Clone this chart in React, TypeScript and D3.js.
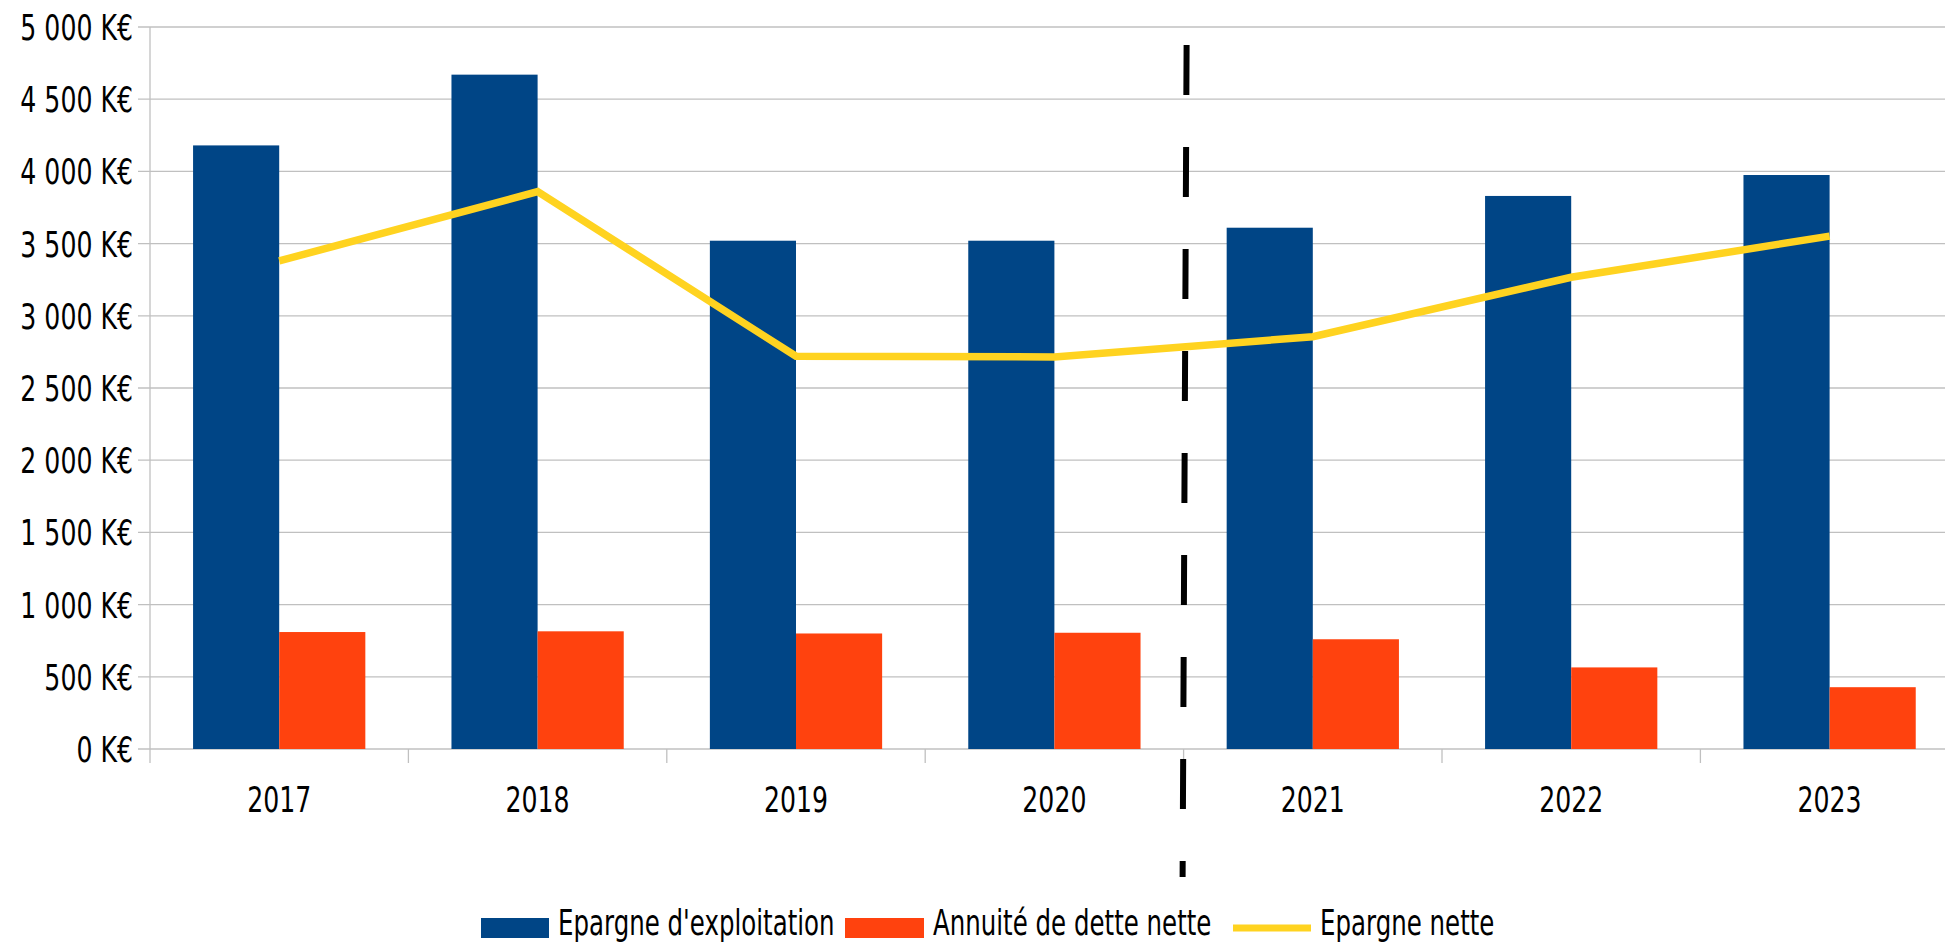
import React from "react";
import * as d3 from "d3";

const years = ["2017", "2018", "2019", "2020", "2021", "2022", "2023"];
const epargneExploitation = [4180, 4670, 3520, 3520, 3610, 3830, 3975];
const annuiteDette = [810, 815, 800, 805, 760, 565, 428];
const epargneNette = [3380, 3860, 2720, 2715, 2855, 3267, 3552];
const yTicks = [0, 500, 1000, 1500, 2000, 2500, 3000, 3500, 4000, 4500, 5000];
const seriesNames = ["Epargne d'exploitation", "Annuité de dette nette", "Epargne nette"];
const colors = ["#004586", "#ff420e", "#ffd320"];
const separatorAfter = "2020";

const W = 1945;
const H = 944;
const FONT = "'DejaVu Sans', sans-serif";
const FS = 36;
const SX = 0.7;

function fmt(v: number) {
  const s = d3.format(",")(v).replace(/,/g, " ");
  return `${s} K€`;
}

function T(props: { x: number; y: number; anchor?: string; dy?: string; size?: number; children: React.ReactNode }) {
  return (
    <text
      transform={`translate(${props.x},${props.y}) scale(${SX},1)`}
      textAnchor={props.anchor || "start"}
      dy={props.dy}
      fontFamily={FONT}
      fontSize={props.size || FS}
      fill="#000"
    >
      {props.children}
    </text>
  );
}

export default function App() {
  const left = 150;
  const catW = 258.4;
  const x = d3.scaleBand<string>().domain(years).range([left, left + catW * years.length]).padding(0);
  const bw = x.bandwidth();
  const inner = d3.scaleBand<string>().domain(["a", "b"]).range([bw / 6, (bw * 5) / 6]).padding(0);
  const y = d3.scaleLinear().domain([0, 5000]).range([749, 27]);

  const line = d3
    .line<number>()
    .x((_, i) => (x(years[i]) as number) + bw / 2)
    .y((d) => y(d));

  const sepX = (x(separatorAfter) as number) + bw;

  return (
    <svg width={W} height={H} style={{ position: "absolute", left: 0, top: 0, background: "#fff" }}>
      <rect x={0} y={0} width={W} height={H} fill="#fff" />
      {yTicks.map((t) => (
        <line key={"g" + t} x1={left - 12} x2={W} y1={y(t)} y2={y(t)} stroke="#c0c0c0" strokeWidth={1.3} />
      ))}
      <line x1={left} x2={left} y1={y(5000)} y2={y(0) + 14} stroke="#c0c0c0" strokeWidth={1.3} />
      {years.map((yr) => (
        <line
          key={"t" + yr}
          x1={(x(yr) as number) + bw}
          x2={(x(yr) as number) + bw}
          y1={y(0)}
          y2={y(0) + 14}
          stroke="#c0c0c0"
          strokeWidth={1.3}
        />
      ))}
      {yTicks.map((t) => (
        <T key={"l" + t} x={133} y={y(t)} dy="0.36em" anchor="end">
          {fmt(t)}
        </T>
      ))}
      {years.map((yr, i) => (
        <g key={"b" + yr} transform={`translate(${x(yr)},0)`}>
          <rect
            x={inner("a")}
            y={y(epargneExploitation[i])}
            width={inner.bandwidth()}
            height={y(0) - y(epargneExploitation[i])}
            fill={colors[0]}
          />
          <rect
            x={inner("b")}
            y={y(annuiteDette[i])}
            width={inner.bandwidth()}
            height={y(0) - y(annuiteDette[i])}
            fill={colors[1]}
          />
        </g>
      ))}
      {years.map((yr) => (
        <T key={"x" + yr} x={(x(yr) as number) + bw / 2} y={812} anchor="middle">
          {yr}
        </T>
      ))}
      <path d={line(epargneNette) || ""} fill="none" stroke={colors[2]} strokeWidth={7.5} strokeLinejoin="miter" />
      <line
        x1={sepX + 3}
        x2={sepX - 1}
        y1={45}
        y2={877}
        stroke="#000"
        strokeWidth={6}
        strokeDasharray="50 52"
      />
      <rect x={481} y={918} width={68} height={20} fill={colors[0]} />
      <T x={558} y={935} size={35}>{seriesNames[0]}</T>
      <rect x={845} y={918} width={79} height={20} fill={colors[1]} />
      <T x={933} y={935} size={35}>{seriesNames[1]}</T>
      <line x1={1233} x2={1311} y1={928} y2={928} stroke={colors[2]} strokeWidth={7} />
      <T x={1320} y={935} size={35}>{seriesNames[2]}</T>
    </svg>
  );
}
